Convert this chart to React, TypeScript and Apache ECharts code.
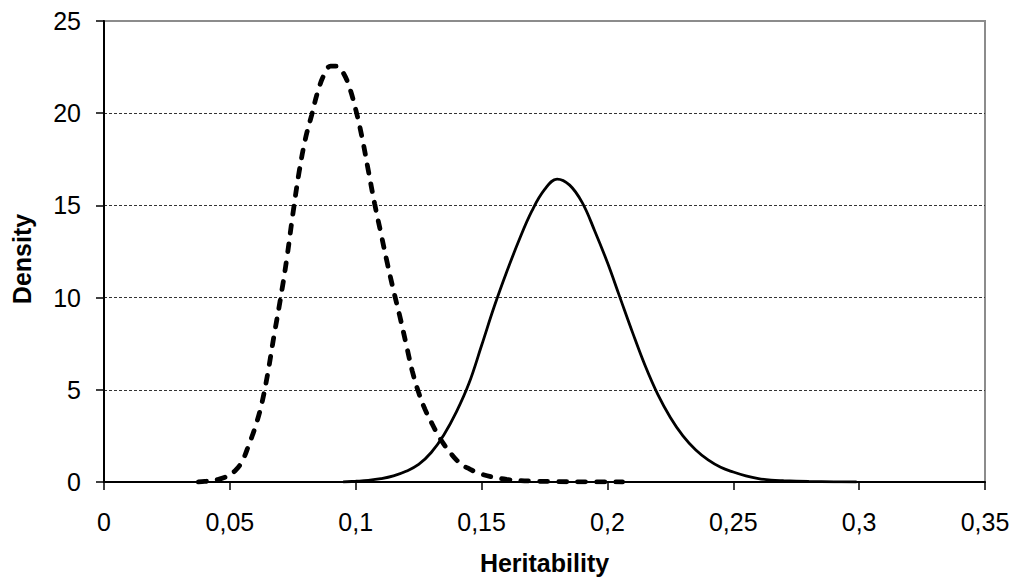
import React, { useEffect, useRef } from "react";
import * as echarts from "echarts";

const xTicks = [0, 0.05, 0.1, 0.15, 0.2, 0.25, 0.3, 0.35];
const yTicks = [0, 5, 10, 15, 20, 25];

const dashedX = [0.0375, 0.04, 0.0425, 0.045, 0.0475, 0.05, 0.0525, 0.055, 0.0575, 0.06, 0.0625, 0.065, 0.0675, 0.07, 0.0725, 0.075, 0.0775, 0.08, 0.0825, 0.085, 0.0875, 0.09, 0.0925, 0.095, 0.0975, 0.1, 0.1025, 0.105, 0.1075, 0.11, 0.1125, 0.115, 0.1175, 0.12, 0.1225, 0.125, 0.1275, 0.13, 0.1325, 0.135, 0.1375, 0.14, 0.1425, 0.145, 0.1475, 0.15, 0.155, 0.16, 0.165, 0.17, 0.18, 0.19, 0.206];
const dashedY = [0, 0.03, 0.07, 0.13, 0.23, 0.4, 0.67, 1.15, 2.0, 2.95, 4.15, 5.85, 7.9, 9.85, 12.0, 14.5, 16.8, 18.6, 19.9, 21.2, 22.1, 22.55, 22.55, 22.2, 21.4, 20.2, 18.7, 16.9, 15.1, 13.5, 11.9, 10.4, 9.0, 7.5, 6.0, 4.85, 3.95, 3.25, 2.6, 2.05, 1.6, 1.2, 0.9, 0.72, 0.55, 0.42, 0.25, 0.14, 0.08, 0.05, 0.02, 0.01, 0];

const solidX = [0.095, 0.1, 0.105, 0.11, 0.115, 0.12, 0.125, 0.13, 0.135, 0.14, 0.145, 0.15, 0.155, 0.16, 0.165, 0.17, 0.175, 0.18, 0.185, 0.19, 0.195, 0.2, 0.205, 0.21, 0.215, 0.22, 0.225, 0.23, 0.235, 0.24, 0.245, 0.25, 0.255, 0.26, 0.265, 0.27, 0.28, 0.29, 0.299];
const solidY = [0, 0.04, 0.09, 0.18, 0.33, 0.58, 0.95, 1.6, 2.55, 3.8, 5.35, 7.4, 9.5, 11.4, 13.15, 14.7, 15.85, 16.43, 16.1, 15.15, 13.6, 11.9, 10.0, 8.1, 6.3, 4.75, 3.5, 2.5, 1.75, 1.2, 0.8, 0.54, 0.33, 0.18, 0.1, 0.07, 0.03, 0.01, 0];

const FONT = "'Liberation Sans', Arial, Helvetica, sans-serif";

export default function App() {
  const ref = useRef<HTMLDivElement>(null);
  useEffect(() => {
    if (!ref.current) return;
    const chart = echarts.init(ref.current, null, { renderer: "svg" });
    chart.setOption({
      animation: false,
      backgroundColor: "#ffffff",
      textStyle: { fontFamily: FONT },
      grid: {
        left: 104,
        right: 30,
        top: 21,
        bottom: 99,
        show: true,
        borderColor: "#8c8c8c",
        borderWidth: 2,
        backgroundColor: "transparent",
      },
      xAxis: {
        type: "value",
        min: xTicks[0],
        max: xTicks[xTicks.length - 1],
        interval: 0.05,
        name: "Heritability",
        nameLocation: "middle",
        nameGap: 68,
        nameTextStyle: { fontFamily: FONT, fontSize: 25, fontWeight: "bold", color: "#000" },
        axisLine: { show: true, onZero: false, lineStyle: { color: "#000", width: 2 } },
        axisTick: { show: true, inside: false, length: 8, lineStyle: { color: "#000", width: 1.5 } },
        axisLabel: {
          margin: 27,
          fontSize: 25,
          color: "#000",
          fontFamily: FONT,
          formatter: (v: number) => String(Number(v.toFixed(2))).replace(".", ","),
        },
        splitLine: { show: false },
      },
      yAxis: {
        type: "value",
        min: yTicks[0],
        max: yTicks[yTicks.length - 1],
        interval: 5,
        axisLine: { show: true, lineStyle: { color: "#000", width: 2 } },
        axisTick: { show: true, inside: false, length: 8, lineStyle: { color: "#000", width: 1.5 } },
        axisLabel: { margin: 23, fontSize: 25, color: "#000", fontFamily: FONT },
        splitLine: {
          show: true,
          showMinLine: false,
          showMaxLine: false,
          lineStyle: { color: "#333", width: 1, type: [3, 2] },
        },
      },
      graphic: [
        {
          type: "text",
          x: 22,
          y: 259,
          rotation: Math.PI / 2,
          style: {
            text: "Density",
            font: `bold 25px ${FONT}`,
            fill: "#000",
            textAlign: "center",
            textVerticalAlign: "middle",
          },
        },
      ],
      series: [
        {
          type: "line",
          data: dashedX.map((x, i) => [x, dashedY[i]]),
          showSymbol: false,
          smooth: 0.4,
          lineStyle: { color: "#000", width: 4.8, type: [8, 11], cap: "round" },
          z: 3,
        },
        {
          type: "line",
          data: solidX.map((x, i) => [x, solidY[i]]),
          showSymbol: false,
          smooth: 0.4,
          lineStyle: { color: "#000", width: 2.8, type: "solid" },
          z: 4,
        },
      ],
    });
    return () => chart.dispose();
  }, []);
  return (
    <div
      ref={ref}
      style={{ position: "absolute", left: 0, top: 0, width: 1015, height: 581 }}
    />
  );
}
